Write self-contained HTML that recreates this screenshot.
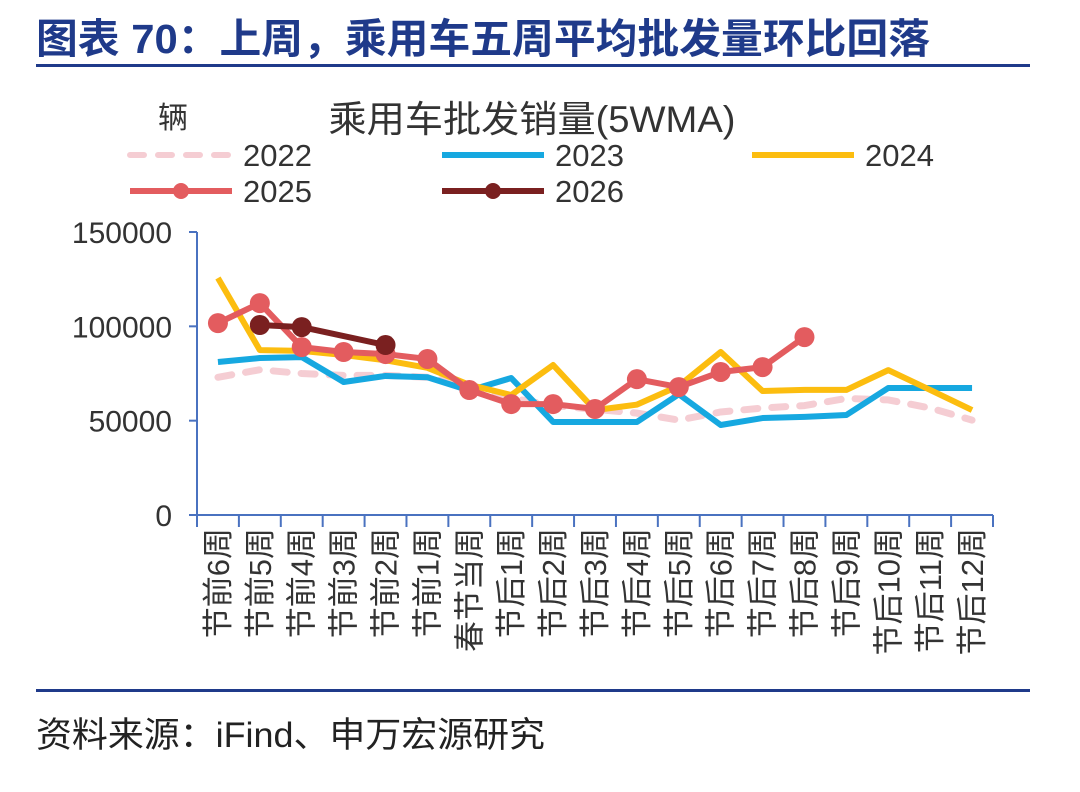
<!DOCTYPE html>
<html><head><meta charset="utf-8"><style>
body{margin:0;background:#fff;width:1080px;height:787px;overflow:hidden;font-family:"Liberation Sans","Noto Sans CJK SC",sans-serif}
</style></head><body>
<svg width="1080" height="787" xmlns="http://www.w3.org/2000/svg" font-family="Liberation Sans, Noto Sans CJK SC, sans-serif">
<text x="36" y="53" font-size="41" font-weight="bold" fill="#1f3a8a" textLength="894" lengthAdjust="spacingAndGlyphs">图表 70：上周，乘用车五周平均批发量环比回落</text>
<rect x="36" y="64" width="994" height="3" fill="#1f3a8a"/>
<rect x="36" y="689" width="994" height="3" fill="#1f3a8a"/>
<text x="36" y="747" font-size="35" fill="#222" textLength="509" lengthAdjust="spacingAndGlyphs">资料来源：iFind、申万宏源研究</text>
<text x="158" y="128" font-size="30" fill="#333">辆</text>
<text x="532" y="132" font-size="37" fill="#333" text-anchor="middle" textLength="407" lengthAdjust="spacingAndGlyphs">乘用车批发销量(5WMA)</text>
<g id="legend"></g>
<g id="plot"></g>
</svg>
<script>
const categories=["节前6周","节前5周","节前4周","节前3周","节前2周","节前1周","春节当周","节后1周","节后2周","节后3周","节后4周","节后5周","节后6周","节后7周","节后8周","节后9周","节后10周","节后11周","节后12周"];
const yTicks=[0,50000,100000,150000];
const s2022=[73000,77000,75000,74000,74000,73000,69000,62000,58000,56000,54000,50300,54600,56700,58000,61800,61000,56700,50300];
const s2023=[81100,83200,83700,70500,73700,73000,66000,72600,49300,49300,49300,64000,47700,51400,52000,53000,67300,67300,67300];
const s2024=[125600,87400,87000,84800,82000,78000,69000,63600,79500,55600,58500,68400,86400,65700,66300,66300,76800,66300,55600];
const s2025=[101700,112300,89000,86400,85300,82700,66250,58800,58800,56200,72000,67800,75800,78400,94300,null,null,null,null];
const s2026=[null,100700,99600,null,90100,null,null,null,null,null,null,null,null,null,null,null,null,null,null];
const NS="http://www.w3.org/2000/svg";
const x0=197,x1=993,y0=515,y1=232,ymax=150000;
const bw=(x1-x0)/categories.length;
const xs=i=>x0+bw*(i+0.5);
const ys=v=>y0-(v/ymax)*(y0-y1);
const plot=document.getElementById('plot');
function mk(tag,attrs,parent){const e=document.createElementNS(NS,tag);for(const k in attrs)e.setAttribute(k,attrs[k]);(parent||plot).appendChild(e);return e;}
const axc="#4a72c0";
let e=mk('line',{x1:x0,y1:y1,x2:x0,y2:y0,stroke:axc,'stroke-width':2});


e=mk('line',{x1:x0,y1:y0,x2:x1,y2:y0,stroke:axc,'stroke-width':2});


yTicks.forEach(t=>{
  const y=ys(t);
  const l=mk('line',{x1:x0-8,y1:y,x2:x0,y2:y,stroke:axc,'stroke-width':2});
  
  
  const tx=mk('text',{x:172,y:y+11,'font-size':30,fill:'#333','text-anchor':'end'});
  tx.textContent=t;
  
  
});
for(let i=0;i<=categories.length;i++){
  const l=mk('line',{x1:x0+bw*i,y1:y0,x2:x0+bw*i,y2:y0+12,stroke:axc,'stroke-width':2});
  
  
}
categories.forEach((c,i)=>{
  const tx=mk('text',{transform:`translate(${xs(i)+11},528) rotate(-90)`,'font-size':31,fill:'#333','text-anchor':'end'});
  tx.textContent=c;
  
  
});
function pts(arr){const p=[];arr.forEach((v,i)=>{if(v!=null)p.push([xs(i),ys(v)]);});return p;}
function series(arr,color,name,opts){
  const p=pts(arr);
  const pl=mk('polyline',{points:p.map(q=>q.join(',')).join(' '),fill:'none',stroke:color,'stroke-width':opts.w||6,'stroke-linejoin':'round','stroke-dasharray':opts.dash||'none','stroke-linecap':opts.dash?'round':'butt'});
  
  
  if(opts.dots)p.forEach(q=>{
    const c=mk('circle',{cx:q[0],cy:q[1],r:opts.r||10,fill:color});
    
    
  });
}
series(s2022,'#f5cdd3','series-2022',{dash:'14 14',w:7});
series(s2023,'#16a8e0','series-2023',{});
series(s2024,'#fcbd0f','series-2024',{});
series(s2025,'#e35c5f','series-2025',{dots:true,r:10});
series(s2026,'#7a2020','series-2026',{dots:true,r:10});
const lg=document.getElementById('legend');
const legend=[["2022",'#f5cdd3',130,155,true,false],["2023",'#16a8e0',442,155,false,false],["2024",'#fcbd0f',752,155,false,false],["2025",'#e35c5f',130,191,false,true],["2026",'#7a2020',442,191,false,true]];
legend.forEach(d=>{
  const g=mk('g',{},lg);
  
  
  mk('line',{x1:d[2],y1:d[3],x2:d[2]+102,y2:d[3],stroke:d[1],'stroke-width':6,'stroke-dasharray':d[4]?'14 14':'none','stroke-linecap':d[4]?'round':'butt'},g);
  if(d[5])mk('circle',{cx:d[2]+51,cy:d[3],r:8,fill:d[1]},g);
  const t=mk('text',{x:d[2]+113,y:d[3]+11,'font-size':31,fill:'#333'},g);
  t.textContent=d[0];
});
</script>
</body></html>
